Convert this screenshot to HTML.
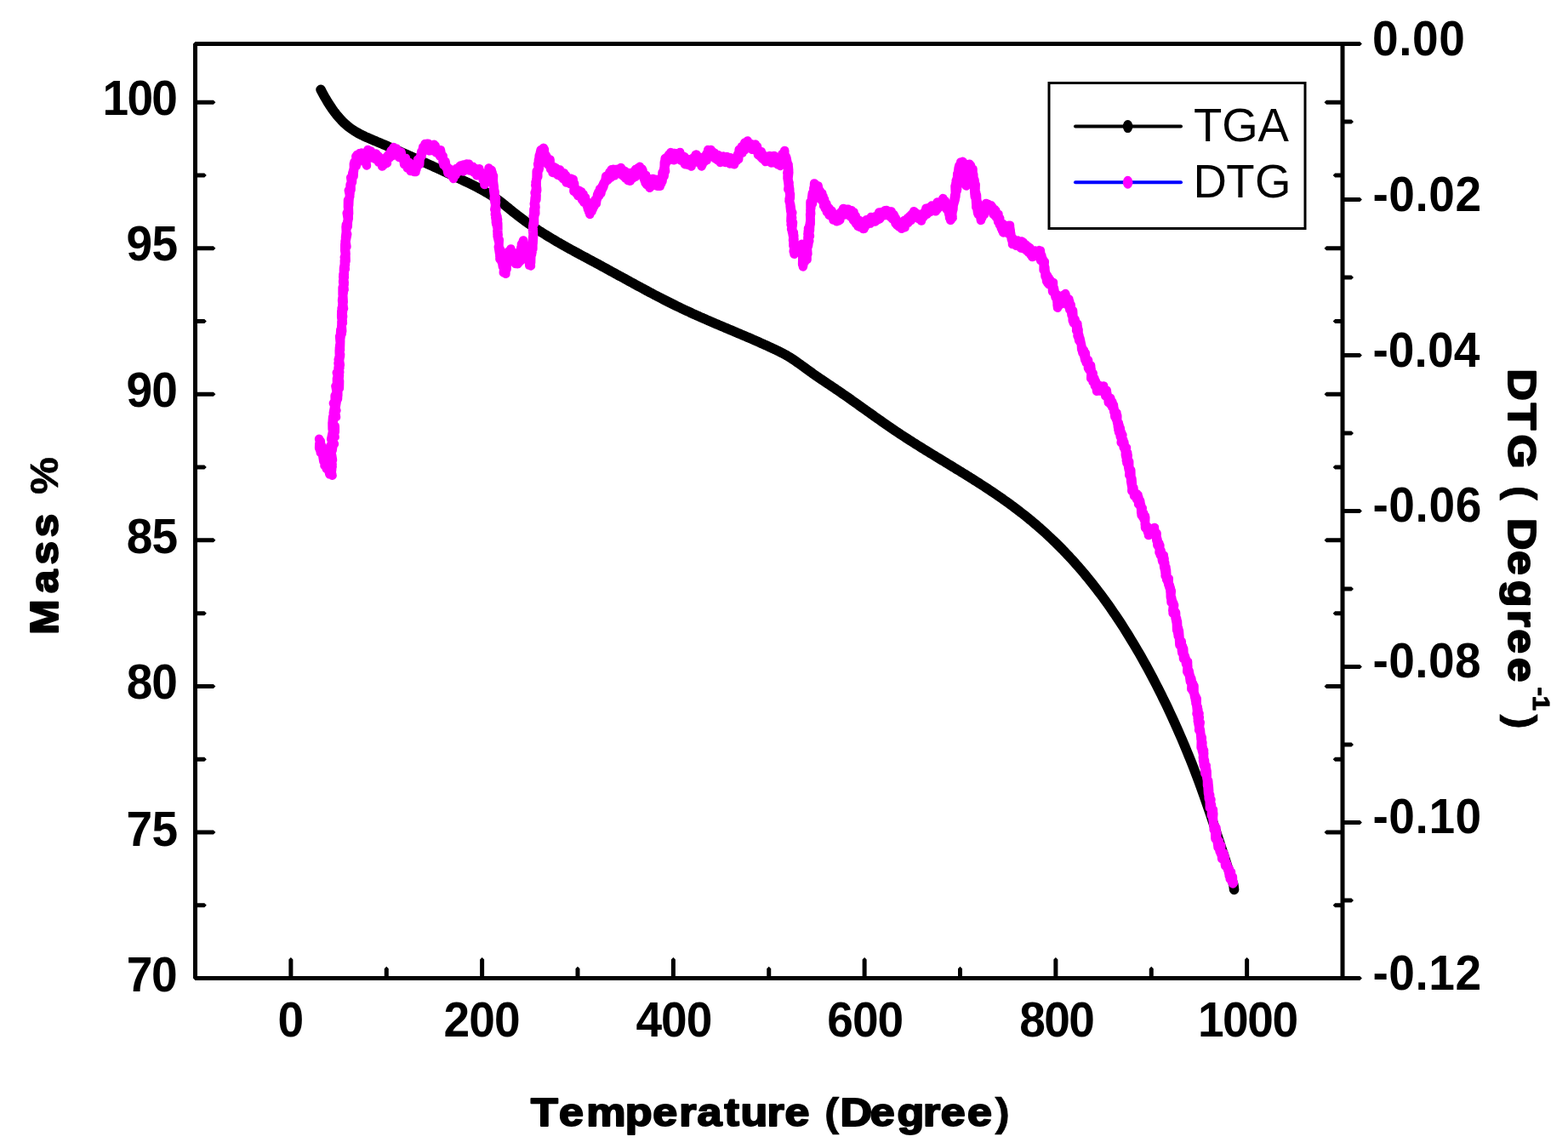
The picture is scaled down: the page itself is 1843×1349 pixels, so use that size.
<!DOCTYPE html><html><head><meta charset="utf-8"><title>TGA / DTG</title><style>html,body{margin:0;padding:0;background:#fff;overflow:hidden}svg{display:block}text{font-family:"Liberation Sans",Arial,sans-serif}</style></head><body>
<svg width="1843" height="1349" viewBox="0 0 1843 1349">
<rect width="1843" height="1349" fill="#fff"/>
<path d="M229.50 1147.00L250.90 1147.00L253.40 1149.50L250.90 1152.00L229.50 1152.00ZM1578.00 1147.00L1559.00 1147.00L1556.50 1149.50L1559.00 1152.00L1578.00 1152.00ZM229.50 1061.23L240.30 1061.23L242.80 1063.73L240.30 1066.23L229.50 1066.23ZM1578.00 1061.23L1569.20 1061.23L1566.70 1063.73L1569.20 1066.23L1578.00 1066.23ZM229.50 975.45L250.90 975.45L253.40 977.95L250.90 980.45L229.50 980.45ZM1578.00 975.45L1559.00 975.45L1556.50 977.95L1559.00 980.45L1578.00 980.45ZM229.50 889.68L240.30 889.68L242.80 892.18L240.30 894.68L229.50 894.68ZM1578.00 889.68L1569.20 889.68L1566.70 892.18L1569.20 894.68L1578.00 894.68ZM229.50 803.91L250.90 803.91L253.40 806.41L250.90 808.91L229.50 808.91ZM1578.00 803.91L1559.00 803.91L1556.50 806.41L1559.00 808.91L1578.00 808.91ZM229.50 718.13L240.30 718.13L242.80 720.63L240.30 723.13L229.50 723.13ZM1578.00 718.13L1569.20 718.13L1566.70 720.63L1569.20 723.13L1578.00 723.13ZM229.50 632.36L250.90 632.36L253.40 634.86L250.90 637.36L229.50 637.36ZM1578.00 632.36L1559.00 632.36L1556.50 634.86L1559.00 637.36L1578.00 637.36ZM229.50 546.59L240.30 546.59L242.80 549.09L240.30 551.59L229.50 551.59ZM1578.00 546.59L1569.20 546.59L1566.70 549.09L1569.20 551.59L1578.00 551.59ZM229.50 460.81L250.90 460.81L253.40 463.31L250.90 465.81L229.50 465.81ZM1578.00 460.81L1559.00 460.81L1556.50 463.31L1559.00 465.81L1578.00 465.81ZM229.50 375.04L240.30 375.04L242.80 377.54L240.30 380.04L229.50 380.04ZM1578.00 375.04L1569.20 375.04L1566.70 377.54L1569.20 380.04L1578.00 380.04ZM229.50 289.27L250.90 289.27L253.40 291.77L250.90 294.27L229.50 294.27ZM1578.00 289.27L1559.00 289.27L1556.50 291.77L1559.00 294.27L1578.00 294.27ZM229.50 203.49L240.30 203.49L242.80 205.99L240.30 208.49L229.50 208.49ZM1578.00 203.49L1569.20 203.49L1566.70 205.99L1569.20 208.49L1578.00 208.49ZM229.50 117.72L250.90 117.72L253.40 120.22L250.90 122.72L229.50 122.72ZM1578.00 117.72L1559.00 117.72L1556.50 120.22L1559.00 122.72L1578.00 122.72ZM1578.00 49.10L1598.40 49.10L1600.90 51.60L1598.40 54.10L1578.00 54.10ZM1578.00 140.59L1588.50 140.59L1591.00 143.09L1588.50 145.59L1578.00 145.59ZM1578.00 232.08L1598.40 232.08L1600.90 234.58L1598.40 237.08L1578.00 237.08ZM1578.00 323.58L1588.50 323.58L1591.00 326.08L1588.50 328.58L1578.00 328.58ZM1578.00 415.07L1598.40 415.07L1600.90 417.57L1598.40 420.07L1578.00 420.07ZM1578.00 506.56L1588.50 506.56L1591.00 509.06L1588.50 511.56L1578.00 511.56ZM1578.00 598.05L1598.40 598.05L1600.90 600.55L1598.40 603.05L1578.00 603.05ZM1578.00 689.54L1588.50 689.54L1591.00 692.04L1588.50 694.54L1578.00 694.54ZM1578.00 781.03L1598.40 781.03L1600.90 783.53L1598.40 786.03L1578.00 786.03ZM1578.00 872.53L1588.50 872.53L1591.00 875.03L1588.50 877.53L1578.00 877.53ZM1578.00 964.02L1598.40 964.02L1600.90 966.52L1598.40 969.02L1578.00 969.02ZM1578.00 1055.51L1588.50 1055.51L1591.00 1058.01L1588.50 1060.51L1578.00 1060.51ZM1578.00 1147.00L1598.40 1147.00L1600.90 1149.50L1598.40 1152.00L1578.00 1152.00ZM339.38 1149.50L339.38 1127.60L341.88 1125.10L344.38 1127.60L344.38 1149.50ZM451.75 1149.50L451.75 1138.20L454.25 1135.70L456.75 1138.20L456.75 1149.50ZM564.12 1149.50L564.12 1127.60L566.62 1125.10L569.12 1127.60L569.12 1149.50ZM676.50 1149.50L676.50 1138.20L679.00 1135.70L681.50 1138.20L681.50 1149.50ZM788.88 1149.50L788.88 1127.60L791.38 1125.10L793.88 1127.60L793.88 1149.50ZM901.25 1149.50L901.25 1138.20L903.75 1135.70L906.25 1138.20L906.25 1149.50ZM1013.62 1149.50L1013.62 1127.60L1016.12 1125.10L1018.62 1127.60L1018.62 1149.50ZM1126.00 1149.50L1126.00 1138.20L1128.50 1135.70L1131.00 1138.20L1131.00 1149.50ZM1238.38 1149.50L1238.38 1127.60L1240.88 1125.10L1243.38 1127.60L1243.38 1149.50ZM1350.75 1149.50L1350.75 1138.20L1353.25 1135.70L1355.75 1138.20L1355.75 1149.50ZM1463.12 1149.50L1463.12 1127.60L1465.62 1125.10L1468.12 1127.60L1468.12 1149.50Z" fill="#000"/>
<rect x="229.5" y="51.6" width="1348.5" height="1097.9" fill="none" stroke="#000" stroke-width="5" stroke-linejoin="bevel"/>
<polyline points="377.0,105.3 379.0,109.1 381.0,112.8 383.0,116.2 385.0,119.6 387.0,122.8 389.0,125.8 391.0,128.7 393.0,131.5 395.0,134.1 397.0,136.5 399.0,138.8 401.0,141.0 403.0,143.1 405.0,145.0 407.0,146.8 409.0,148.4 411.0,150.0 413.0,151.5 415.0,152.8 417.0,154.1 419.0,155.3 421.0,156.5 423.0,157.5 425.0,158.6 427.0,159.5 429.0,160.5 431.0,161.4 433.0,162.2 435.0,163.1 437.0,163.9 439.0,164.8 441.0,165.6 443.0,166.5 445.0,167.3 447.0,168.2 449.0,169.0 451.0,169.9 453.0,170.7 455.0,171.6 457.0,172.5 459.0,173.3 461.0,174.2 463.0,175.1 465.0,175.9 467.0,176.8 469.0,177.7 471.0,178.5 473.0,179.4 475.0,180.3 477.0,181.2 479.0,182.0 481.0,182.9 483.0,183.8 485.0,184.7 487.0,185.6 489.0,186.5 491.0,187.4 493.0,188.3 495.0,189.1 497.0,190.0 499.0,190.9 501.0,191.8 503.0,192.8 505.0,193.7 507.0,194.6 509.0,195.5 511.0,196.4 513.0,197.3 515.0,198.2 517.0,199.1 519.0,200.1 521.0,201.0 523.0,201.9 525.0,202.9 527.0,203.8 529.0,204.7 531.0,205.7 533.0,206.6 535.0,207.5 537.0,208.5 539.0,209.4 541.0,210.4 543.0,211.3 545.0,212.3 547.0,213.3 549.0,214.2 551.0,215.2 553.0,216.2 555.0,217.2 557.0,218.2 559.0,219.2 561.0,220.2 563.0,221.3 565.0,222.3 567.0,223.4 569.0,224.5 571.0,225.7 573.0,226.9 575.0,228.1 577.0,229.3 579.0,230.6 581.0,231.9 583.0,233.3 585.0,234.7 587.0,236.2 589.0,237.7 591.0,239.2 593.0,240.8 595.0,242.4 597.0,244.0 599.0,245.7 601.0,247.3 603.0,248.9 605.0,250.5 607.0,252.1 609.0,253.7 611.0,255.2 613.0,256.7 615.0,258.2 617.0,259.7 619.0,261.1 621.0,262.5 623.0,263.9 625.0,265.3 627.0,266.7 629.0,268.0 631.0,269.4 633.0,270.7 635.0,272.0 637.0,273.2 639.0,274.5 641.0,275.8 643.0,277.0 645.0,278.2 647.0,279.4 649.0,280.6 651.0,281.8 653.0,283.0 655.0,284.2 657.0,285.3 659.0,286.5 661.0,287.6 663.0,288.7 665.0,289.9 667.0,291.0 669.0,292.1 671.0,293.2 673.0,294.3 675.0,295.4 677.0,296.5 679.0,297.5 681.0,298.6 683.0,299.7 685.0,300.8 687.0,301.8 689.0,302.9 691.0,304.0 693.0,305.1 695.0,306.1 697.0,307.2 699.0,308.3 701.0,309.4 703.0,310.4 705.0,311.5 707.0,312.6 709.0,313.7 711.0,314.8 713.0,315.9 715.0,317.0 717.0,318.1 719.0,319.2 721.0,320.3 723.0,321.4 725.0,322.5 727.0,323.6 729.0,324.7 731.0,325.7 733.0,326.8 735.0,327.9 737.0,329.0 739.0,330.1 741.0,331.2 743.0,332.3 745.0,333.4 747.0,334.5 749.0,335.6 751.0,336.7 753.0,337.7 755.0,338.8 757.0,339.9 759.0,341.0 761.0,342.0 763.0,343.1 765.0,344.2 767.0,345.2 769.0,346.3 771.0,347.3 773.0,348.4 775.0,349.4 777.0,350.4 779.0,351.5 781.0,352.5 783.0,353.5 785.0,354.5 787.0,355.5 789.0,356.5 791.0,357.5 793.0,358.5 795.0,359.5 797.0,360.4 799.0,361.4 801.0,362.4 803.0,363.3 805.0,364.3 807.0,365.2 809.0,366.1 811.0,367.0 813.0,368.0 815.0,368.9 817.0,369.8 819.0,370.7 821.0,371.6 823.0,372.5 825.0,373.3 827.0,374.2 829.0,375.1 831.0,376.0 833.0,376.8 835.0,377.7 837.0,378.6 839.0,379.4 841.0,380.3 843.0,381.1 845.0,382.0 847.0,382.8 849.0,383.7 851.0,384.5 853.0,385.4 855.0,386.2 857.0,387.1 859.0,387.9 861.0,388.7 863.0,389.6 865.0,390.4 867.0,391.3 869.0,392.1 871.0,393.0 873.0,393.8 875.0,394.7 877.0,395.5 879.0,396.4 881.0,397.2 883.0,398.1 885.0,399.0 887.0,399.8 889.0,400.7 891.0,401.6 893.0,402.5 895.0,403.4 897.0,404.3 899.0,405.2 901.0,406.1 903.0,407.0 905.0,407.9 907.0,408.8 909.0,409.8 911.0,410.7 913.0,411.7 915.0,412.6 917.0,413.6 919.0,414.7 921.0,415.7 923.0,416.8 925.0,417.9 927.0,419.1 929.0,420.3 931.0,421.6 933.0,422.9 935.0,424.3 937.0,425.7 939.0,427.1 941.0,428.5 943.0,430.0 945.0,431.4 947.0,432.9 949.0,434.4 951.0,435.8 953.0,437.2 955.0,438.7 957.0,440.1 959.0,441.5 961.0,442.9 963.0,444.2 965.0,445.6 967.0,446.9 969.0,448.3 971.0,449.6 973.0,451.0 975.0,452.3 977.0,453.6 979.0,455.0 981.0,456.3 983.0,457.7 985.0,459.0 987.0,460.4 989.0,461.8 991.0,463.2 993.0,464.5 995.0,465.9 997.0,467.3 999.0,468.7 1001.0,470.2 1003.0,471.6 1005.0,473.0 1007.0,474.4 1009.0,475.8 1011.0,477.3 1013.0,478.7 1015.0,480.1 1017.0,481.5 1019.0,483.0 1021.0,484.4 1023.0,485.8 1025.0,487.2 1027.0,488.7 1029.0,490.1 1031.0,491.5 1033.0,492.9 1035.0,494.3 1037.0,495.7 1039.0,497.1 1041.0,498.5 1043.0,499.9 1045.0,501.3 1047.0,502.6 1049.0,504.0 1051.0,505.4 1053.0,506.7 1055.0,508.0 1057.0,509.4 1059.0,510.7 1061.0,512.0 1063.0,513.3 1065.0,514.6 1067.0,515.9 1069.0,517.2 1071.0,518.4 1073.0,519.7 1075.0,521.0 1077.0,522.2 1079.0,523.5 1081.0,524.8 1083.0,526.0 1085.0,527.2 1087.0,528.5 1089.0,529.7 1091.0,530.9 1093.0,532.2 1095.0,533.4 1097.0,534.6 1099.0,535.8 1101.0,537.1 1103.0,538.3 1105.0,539.5 1107.0,540.7 1109.0,541.9 1111.0,543.1 1113.0,544.4 1115.0,545.6 1117.0,546.8 1119.0,548.0 1121.0,549.2 1123.0,550.5 1125.0,551.7 1127.0,552.9 1129.0,554.1 1131.0,555.4 1133.0,556.6 1135.0,557.8 1137.0,559.1 1139.0,560.3 1141.0,561.6 1143.0,562.8 1145.0,564.1 1147.0,565.4 1149.0,566.6 1151.0,567.9 1153.0,569.2 1155.0,570.5 1157.0,571.8 1159.0,573.1 1161.0,574.4 1163.0,575.7 1165.0,577.1 1167.0,578.4 1169.0,579.7 1171.0,581.1 1173.0,582.5 1175.0,583.9 1177.0,585.2 1179.0,586.7 1181.0,588.1 1183.0,589.5 1185.0,590.9 1187.0,592.4 1189.0,593.9 1191.0,595.3 1193.0,596.8 1195.0,598.3 1197.0,599.9 1199.0,601.4 1201.0,603.0 1203.0,604.5 1205.0,606.1 1207.0,607.7 1209.0,609.3 1211.0,611.0 1213.0,612.6 1215.0,614.3 1217.0,616.0 1219.0,617.7 1221.0,619.5 1223.0,621.2 1225.0,623.0 1227.0,624.8 1229.0,626.6 1231.0,628.4 1233.0,630.3 1235.0,632.2 1237.0,634.1 1239.0,636.0 1241.0,637.9 1243.0,639.9 1245.0,641.9 1247.0,643.9 1249.0,645.9 1251.0,648.0 1253.0,650.1 1255.0,652.2 1257.0,654.3 1259.0,656.5 1261.0,658.7 1263.0,660.9 1265.0,663.2 1267.0,665.4 1269.0,667.7 1271.0,670.0 1273.0,672.4 1275.0,674.8 1277.0,677.2 1279.0,679.6 1281.0,682.1 1283.0,684.6 1285.0,687.1 1287.0,689.7 1289.0,692.3 1291.0,694.9 1293.0,697.5 1295.0,700.2 1297.0,702.9 1299.0,705.7 1301.0,708.4 1303.0,711.2 1305.0,714.1 1307.0,717.0 1309.0,719.9 1311.0,722.8 1313.0,725.8 1315.0,728.8 1317.0,731.8 1319.0,734.9 1321.0,738.0 1323.0,741.2 1325.0,744.4 1327.0,747.6 1329.0,750.9 1331.0,754.2 1333.0,757.5 1335.0,760.9 1337.0,764.3 1339.0,767.7 1341.0,771.2 1343.0,774.8 1345.0,778.3 1347.0,781.9 1349.0,785.6 1351.0,789.3 1353.0,793.0 1355.0,796.8 1357.0,800.6 1359.0,804.5 1361.0,808.4 1363.0,812.3 1365.0,816.3 1367.0,820.4 1369.0,824.5 1371.0,828.6 1373.0,832.8 1375.0,837.1 1377.0,841.4 1379.0,845.7 1381.0,850.2 1383.0,854.6 1385.0,859.1 1387.0,863.7 1389.0,868.3 1391.0,873.0 1393.0,877.8 1395.0,882.6 1397.0,887.5 1399.0,892.4 1401.0,897.4 1403.0,902.5 1405.0,907.7 1407.0,912.9 1409.0,918.3 1411.0,923.7 1413.0,929.2 1415.0,934.9 1417.0,940.5 1419.0,946.3 1421.0,952.1 1423.0,958.0 1425.0,964.0 1427.0,969.9 1429.0,976.0 1431.0,982.0 1433.0,988.1 1435.0,994.2 1437.0,1000.3 1439.0,1006.4 1441.0,1012.6 1443.0,1018.7 1445.0,1024.8 1447.0,1030.9 1449.0,1037.0 1449.9,1039.7 1450.6,1045.5" fill="none" stroke="#000" stroke-width="11.5" stroke-linejoin="round" stroke-linecap="round"/>
<polyline points="375.5,517.0 375.1,515.8 376.9,522.6 376.8,518.4 375.1,526.4 375.3,521.2 375.9,528.6 377.8,523.4 376.8,531.9 379.4,526.2 379.6,535.2 381.7,531.0 381.6,538.0 379.0,533.9 380.3,542.2 380.3,536.1 382.9,544.4 383.1,540.3 381.5,547.3 384.8,542.7 383.8,551.0 385.1,545.8 387.2,554.1 385.4,548.2 387.3,557.3 388.9,551.6 390.6,558.7 388.2,550.6 387.1,556.3 386.7,547.7 390.0,553.4 390.6,545.3 389.9,550.4 389.5,542.0 390.7,548.1 389.2,538.5 387.4,544.5 390.1,534.8 391.0,540.6 389.1,532.4 387.6,537.9 388.4,530.4 388.0,535.5 388.4,527.1 389.6,532.6 388.4,523.6 390.6,529.5 391.9,519.6 389.7,525.4 390.1,516.5 392.9,521.8 389.6,514.6 390.0,519.3 391.6,511.4 389.2,516.1 390.9,507.7 393.6,513.5 391.8,504.5 392.7,509.1 393.8,501.0 393.8,507.5 391.7,498.8 390.6,504.2 390.5,496.4 391.3,500.2 392.0,493.5 390.6,497.2 391.1,489.9 390.9,495.7 393.6,487.3 392.1,491.6 392.7,484.3 395.0,489.9 393.4,480.6 391.8,485.1 393.1,478.1 395.3,482.2 391.9,473.7 394.3,479.2 394.5,472.5 394.7,477.8 396.3,468.1 393.8,473.5 393.6,464.9 395.4,471.3 394.7,462.9 397.0,468.6 397.3,458.7 397.3,465.1 394.9,456.2 395.7,460.6 394.4,453.6 395.6,458.9 398.8,450.2 398.9,456.4 399.1,447.4 396.0,451.9 395.9,444.7 397.9,450.2 399.0,441.1 398.2,447.0 395.8,437.8 398.7,444.0 398.4,435.1 397.2,441.0 397.6,431.5 399.2,437.2 398.0,428.2 398.8,433.8 397.5,426.8 399.4,432.0 397.7,422.4 399.8,428.7 398.4,420.0 398.0,424.4 400.1,416.8 399.1,423.3 399.0,413.4 400.0,418.8 398.7,411.5 398.8,416.6 398.9,408.2 398.7,414.2 399.3,405.1 400.0,411.1 399.7,401.2 400.0,407.4 400.2,399.9 400.1,403.6 399.1,395.3 399.6,401.2 401.0,392.8 400.2,398.2 400.8,389.3 399.9,395.3 400.3,387.3 401.7,392.1 401.2,383.3 402.2,389.0 401.6,380.8 401.4,386.4 401.4,377.7 401.5,383.9 402.2,373.9 402.9,379.5 402.0,370.8 402.8,376.2 401.2,368.7 401.2,373.4 401.3,365.3 403.1,371.7 401.6,362.1 402.9,367.2 403.5,358.6 402.0,365.7 402.5,356.5 404.0,362.4 402.1,353.6 403.0,358.4 402.3,350.8 403.7,354.8 403.3,347.5 402.1,352.4 403.7,344.3 402.4,350.6 404.2,340.4 402.6,346.2 402.6,337.7 403.2,342.8 403.6,334.4 404.7,340.1 403.1,331.4 404.2,337.9 403.1,330.1 404.6,334.3 403.2,325.3 404.7,332.0 403.4,322.4 403.5,329.1 404.5,320.4 404.8,326.3 404.2,317.8 404.9,321.9 404.0,314.8 403.9,318.8 404.6,311.5 405.8,316.0 405.2,308.7 404.9,312.5 404.8,306.0 406.0,310.5 404.8,302.1 406.6,306.6 406.4,299.2 405.7,305.1 405.6,296.1 406.4,302.4 405.6,292.4 406.6,298.7 405.9,290.4 405.2,294.7 405.3,286.6 405.8,291.7 405.5,283.4 407.4,289.7 406.1,281.6 406.2,286.3 406.0,278.2 406.4,284.3 408.2,275.0 406.5,281.3 406.8,272.4 406.2,277.2 407.4,269.1 406.9,274.4 406.5,266.6 406.8,271.2 406.8,264.0 407.6,267.9 408.3,260.0 408.8,265.7 408.9,256.3 408.2,262.1 409.7,254.8 409.2,259.7 407.7,250.4 409.8,256.7 409.6,247.4 408.3,253.3 409.3,244.3 410.1,250.8 409.7,241.0 410.0,247.4 409.1,239.6 408.9,243.7 409.0,234.9 410.2,241.1 410.5,232.1 410.3,236.7 411.1,228.8 410.5,234.7 411.0,227.1 411.3,231.0 409.8,223.6 411.5,227.8 411.7,219.0 411.4,225.1 411.6,216.7 412.6,222.6 412.5,214.9 411.6,218.9 413.3,211.5 413.2,215.5 412.2,208.6 414.0,213.9 414.2,205.6 414.1,210.5 414.3,203.0 415.6,207.0 416.0,198.4 414.1,204.5 416.5,195.4 416.0,201.2 415.8,192.5 416.2,198.9 416.4,190.4 418.8,195.0 418.9,187.4 419.4,193.2 418.3,183.7 419.3,188.9 419.6,181.9 422.1,187.2 422.9,179.9 424.8,186.0 424.8,179.5 427.5,187.5 428.5,182.5 429.2,190.8 428.6,186.1 430.9,194.4 429.8,186.0 430.0,190.3 430.0,182.3 430.8,189.1 431.2,180.4 432.2,184.7 432.3,176.1 435.0,185.1 435.9,177.5 438.1,185.8 439.1,180.5 440.6,186.9 442.1,180.6 442.5,187.4 445.0,183.5 444.9,190.5 445.5,184.7 448.1,192.8 448.4,188.1 449.1,195.5 449.4,188.3 450.8,194.0 452.7,185.7 454.9,191.8 455.0,183.4 455.7,187.5 457.1,181.0 457.9,185.3 459.7,176.9 461.2,183.1 461.5,175.1 462.4,180.4 462.7,173.0 466.0,179.8 466.0,174.6 468.0,182.2 467.7,177.5 469.1,184.9 471.6,178.6 472.5,186.3 471.6,181.1 474.5,189.5 474.6,185.0 475.0,193.0 476.9,185.9 478.0,194.2 476.8,189.8 478.7,197.6 480.9,190.8 481.5,199.4 482.3,192.8 482.6,201.1 484.3,193.8 486.6,201.9 486.6,196.8 488.5,202.0 487.9,194.2 489.5,198.8 489.9,190.9 491.0,194.8 491.0,187.5 493.2,193.1 493.7,184.5 492.8,189.3 495.1,181.1 494.1,185.9 495.2,178.2 495.6,183.4 496.8,174.7 496.3,179.9 497.2,172.7 498.6,177.3 499.5,169.1 499.4,174.3 502.0,168.8 503.1,175.1 503.2,168.7 504.8,177.3 506.8,170.6 507.6,177.0 510.1,169.8 510.4,177.7 511.7,171.4 512.8,179.5 513.8,175.0 517.1,183.6 517.9,176.3 519.6,185.0 518.4,179.1 520.3,187.4 520.7,183.2 520.5,190.9 520.6,186.9 521.4,193.9 523.6,189.6 524.2,196.6 523.6,191.1 525.7,199.7 524.7,194.4 526.4,203.4 526.8,197.3 529.4,204.3 529.1,199.1 530.9,206.9 530.0,203.2 533.0,210.0 533.6,201.7 533.6,207.6 536.0,199.8 535.4,206.0 536.5,198.0 536.7,203.6 540.3,195.4 541.7,200.9 541.3,194.4 544.4,201.4 544.4,193.6 545.9,199.2 548.4,192.4 549.6,199.8 551.1,192.7 552.1,200.5 552.9,195.0 555.5,201.5 555.6,195.7 557.2,202.9 558.2,197.6 560.3,206.3 563.2,198.3 563.2,206.0 564.2,200.7 567.2,208.2 566.5,203.1 567.8,211.6 568.6,205.2 568.8,213.4 569.7,209.3 569.4,216.9 570.3,212.4 569.7,216.6 570.0,208.1 571.7,213.8 571.8,204.9 572.7,210.7 574.0,202.6 575.0,207.5 574.4,199.3 575.8,206.1 574.5,197.4 575.2,204.7 577.8,199.8 578.3,208.0 578.7,203.0 577.8,211.8 580.0,206.7 579.7,214.5 579.3,209.1 579.3,216.7 579.7,211.8 580.8,219.8 579.4,215.5 581.1,222.9 580.4,218.9 581.7,226.8 580.0,222.2 581.0,229.9 581.7,225.4 580.7,233.4 581.4,228.2 581.3,237.0 581.4,230.7 581.7,239.1 583.0,233.0 582.0,241.8 583.0,237.7 581.3,246.3 582.5,239.6 582.5,249.4 582.8,244.0 581.8,251.9 583.4,245.7 582.2,255.1 583.0,249.6 582.6,257.6 583.6,251.9 582.8,261.1 584.5,254.9 583.2,263.5 585.1,258.0 584.1,266.5 585.3,262.3 585.4,270.7 585.3,265.9 585.3,273.0 584.6,267.6 585.7,276.1 584.4,271.6 585.3,279.6 584.5,275.1 586.1,283.7 584.6,277.6 586.5,285.2 586.8,281.6 586.4,289.3 586.6,284.3 586.3,292.5 586.5,286.8 586.7,295.3 585.8,290.0 587.1,298.1 587.9,292.8 587.3,301.1 587.8,297.1 587.4,304.5 587.7,299.4 589.1,306.7 589.9,303.1 590.5,311.1 590.4,306.1 590.8,313.3 592.3,308.9 592.5,317.5 592.7,310.5 591.8,320.4 593.0,313.2 594.4,321.7 594.4,313.3 593.0,319.2 595.0,311.8 595.6,316.1 595.7,308.9 595.3,314.4 594.9,305.7 595.9,310.2 595.1,302.9 595.7,308.5 597.3,298.5 596.4,305.2 596.6,296.3 598.1,301.4 600.2,293.3 601.0,299.5 600.4,292.4 602.2,301.5 603.2,296.8 604.2,304.8 603.2,298.8 604.0,307.0 605.2,303.2 606.0,310.1 607.0,302.5 608.4,310.2 609.3,303.7 610.1,308.4 611.7,300.9 611.7,306.9 611.0,298.4 612.5,302.2 611.1,295.2 611.6,299.9 612.1,291.7 613.2,296.6 613.5,289.0 612.6,295.1 613.0,286.7 612.9,291.6 615.0,282.4 615.0,290.8 615.2,285.7 617.6,293.9 618.9,289.0 620.0,297.7 618.7,291.1 618.6,300.2 619.8,295.3 619.4,303.7 619.6,297.7 622.2,305.4 620.8,300.5 621.9,309.3 623.0,304.4 622.2,311.6 621.9,305.9 623.9,312.4 622.2,302.9 624.1,308.7 624.3,300.5 623.2,304.9 623.4,298.2 623.8,303.0 624.9,293.4 625.1,298.9 624.9,291.1 625.6,296.3 624.6,287.6 626.4,292.5 626.4,285.7 625.1,289.4 626.4,280.7 626.6,286.5 627.0,278.8 625.6,284.6 626.6,275.0 626.8,281.6 626.4,271.7 627.1,278.3 626.6,268.8 627.0,274.2 626.2,266.0 626.0,272.3 626.3,264.1 626.3,269.3 627.0,260.8 626.3,264.5 628.0,256.8 628.1,262.8 626.7,253.8 627.5,259.9 628.7,250.1 627.0,256.9 629.2,247.0 627.3,252.5 627.4,245.7 629.3,250.7 628.9,241.1 629.0,246.6 627.8,239.4 629.5,243.4 628.6,235.7 628.0,240.4 628.7,232.1 629.0,237.4 630.6,229.4 630.4,234.9 628.6,226.5 629.7,232.1 629.6,222.8 630.2,227.9 631.1,220.9 631.1,224.8 629.3,217.6 631.2,223.3 629.5,214.0 630.8,219.8 630.2,210.9 630.7,216.8 630.6,206.9 630.8,212.5 631.9,204.7 630.6,210.2 630.7,201.0 632.3,207.4 632.2,198.8 631.9,203.5 633.3,196.1 633.5,199.6 632.1,192.6 633.9,197.4 632.9,188.2 632.8,194.1 633.7,185.3 634.4,191.3 633.7,183.0 633.4,188.5 634.9,179.0 633.9,184.6 635.6,176.1 635.5,181.5 638.8,173.8 637.9,181.2 639.9,175.6 639.3,183.9 640.2,179.5 641.6,186.8 641.9,182.8 644.2,190.9 642.8,184.2 643.7,193.2 646.6,187.5 646.9,196.2 646.4,190.8 647.1,198.8 648.6,194.9 649.5,202.9 651.6,196.2 653.0,203.7 653.3,197.5 655.4,205.8 658.1,199.4 658.8,207.3 659.6,201.8 661.6,210.0 663.0,203.3 664.4,212.1 665.1,206.2 665.6,214.5 666.5,208.1 669.6,215.8 670.8,209.7 671.7,216.5 673.7,210.6 674.2,219.5 673.5,213.0 675.4,221.4 675.1,215.3 674.4,224.7 675.2,218.7 677.5,227.5 676.9,221.7 679.4,230.2 680.9,223.8 683.1,232.1 683.3,225.5 684.0,234.7 685.6,228.2 686.2,237.7 688.0,232.0 688.4,239.2 688.4,234.2 690.1,242.8 690.6,237.5 690.9,245.8 693.3,240.0 692.2,248.9 693.3,243.6 693.3,251.9 695.7,242.7 695.6,248.5 695.8,239.1 696.8,245.6 698.7,236.4 698.5,242.0 699.5,234.8 700.9,239.1 701.7,231.6 701.3,235.9 702.1,228.7 701.9,233.9 703.3,225.7 704.0,230.4 705.1,221.9 706.4,227.2 707.8,218.5 706.4,225.2 709.2,215.7 708.1,222.3 710.1,214.3 709.3,219.6 711.6,210.9 711.0,215.0 712.2,207.1 713.3,212.5 715.5,204.5 714.6,211.4 716.5,202.0 717.5,208.9 718.6,199.3 718.7,206.8 720.9,198.8 722.2,206.4 724.0,199.0 724.7,204.2 726.8,198.6 728.2,203.5 729.8,197.0 731.0,205.7 730.9,198.6 733.1,207.4 734.7,201.0 735.2,209.5 737.7,204.8 738.1,212.2 737.8,206.1 740.8,212.8 741.4,203.1 743.4,209.7 745.8,202.7 746.6,207.9 746.9,199.1 748.2,205.6 749.8,197.3 750.3,203.6 752.0,195.8 753.8,203.6 754.7,198.7 754.7,206.2 755.5,200.2 756.7,209.9 756.8,204.2 757.6,212.1 759.2,205.9 758.6,215.1 761.4,209.2 760.1,217.2 760.7,212.8 763.6,220.7 764.5,212.0 766.5,218.5 767.3,210.1 769.0,216.2 770.1,210.7 771.3,217.7 772.7,212.7 772.5,218.7 775.2,212.9 775.8,218.8 777.0,210.2 777.3,215.6 777.5,207.9 778.5,213.0 779.5,203.9 778.3,210.3 778.5,202.6 780.6,207.3 781.2,199.0 779.2,204.0 780.9,195.0 782.1,201.2 780.9,193.7 781.7,197.7 780.8,190.9 780.7,195.7 781.7,186.1 782.4,193.1 783.2,185.0 785.4,188.9 786.1,181.7 785.2,187.0 788.3,179.1 789.8,186.1 791.1,179.9 792.1,188.3 793.1,179.9 795.7,186.9 795.5,180.3 799.0,186.1 799.2,179.1 800.1,188.4 802.1,182.9 803.1,190.3 804.5,184.2 805.0,193.2 806.8,186.7 808.9,194.0 809.8,187.2 812.6,195.5 813.2,188.9 812.8,194.8 815.3,184.9 815.3,191.1 817.7,181.9 817.7,187.5 818.6,181.6 819.7,190.7 821.4,184.0 823.2,192.4 822.5,187.7 824.7,195.5 826.5,186.4 825.6,193.3 828.3,183.7 828.6,189.5 830.2,181.2 830.7,188.1 830.8,179.9 832.1,185.2 832.2,175.9 834.8,181.4 835.5,175.9 836.7,183.6 837.6,178.0 840.4,186.3 840.2,180.1 843.3,188.1 844.3,182.1 846.5,190.9 847.3,183.8 848.4,190.2 850.2,183.6 852.4,190.9 854.3,184.0 855.1,190.4 858.7,185.2 858.0,192.6 861.1,186.7 862.1,193.0 863.4,187.9 863.0,193.3 865.8,184.0 865.8,188.9 867.1,181.2 868.2,186.9 868.7,177.1 868.1,182.5 868.7,175.7 869.5,179.9 871.8,172.2 872.6,179.5 874.8,171.6 875.2,176.2 875.2,167.6 876.6,174.3 878.6,165.4 880.2,173.5 881.1,168.1 883.9,175.8 883.6,169.5 885.1,175.7 887.9,169.6 889.0,177.6 890.1,172.5 891.0,181.9 890.8,176.1 893.7,184.3 894.8,178.2 895.8,186.4 895.9,180.6 897.5,187.6 899.2,183.4 899.9,190.1 902.6,184.9 904.4,190.1 904.4,183.0 906.5,191.4 909.8,182.9 909.5,191.3 910.9,184.6 914.2,193.4 914.7,187.5 917.1,194.9 917.3,187.3 917.1,191.1 919.0,183.6 918.4,189.7 919.4,180.9 919.9,185.6 922.3,178.1 921.4,183.1 922.1,177.0 922.0,187.0 922.2,179.9 924.1,188.5 924.0,184.1 923.8,191.4 924.5,185.7 926.4,195.8 924.6,190.0 926.9,197.0 926.5,193.1 927.2,200.1 926.8,196.2 925.3,203.3 927.0,199.0 925.5,207.3 927.3,202.7 926.5,209.9 925.6,204.8 927.0,213.2 925.5,209.3 926.8,216.9 926.1,212.3 927.0,220.5 927.6,214.7 926.3,222.4 927.7,218.2 927.9,225.5 928.2,221.4 928.5,230.2 927.8,225.2 928.9,232.6 929.0,227.8 927.5,236.4 928.1,231.2 928.3,239.1 927.6,233.6 928.8,242.0 928.2,236.3 930.0,245.8 929.0,239.4 929.3,248.7 928.6,242.3 930.9,251.4 930.0,246.0 930.1,253.5 931.3,249.8 929.5,256.8 929.8,251.7 929.4,259.9 931.1,256.1 929.6,264.0 931.0,258.5 931.5,266.2 932.0,261.3 930.1,269.3 931.3,264.8 930.9,272.4 931.3,268.6 931.9,277.0 930.9,270.9 932.5,278.7 932.9,273.3 932.0,282.5 933.3,277.4 932.4,286.7 933.5,281.0 932.4,288.7 933.0,282.9 934.1,293.1 934.3,286.4 932.7,295.5 935.0,289.4 933.5,298.6 935.9,291.3 937.1,296.1 938.4,289.2 938.9,294.4 942.6,286.8 942.8,296.0 942.7,289.6 943.1,297.7 942.8,293.8 943.1,301.2 943.0,295.5 943.4,304.1 943.4,299.4 944.7,307.2 943.3,301.9 943.1,310.7 945.4,305.2 943.9,313.4 945.1,305.9 944.7,309.8 945.7,302.5 946.2,307.1 946.3,299.2 948.6,304.9 948.5,296.1 948.2,302.1 948.9,293.2 949.4,298.5 948.8,290.7 948.7,295.5 949.2,286.9 948.4,292.0 950.6,284.5 950.0,289.2 949.4,279.9 949.6,286.6 949.4,278.6 951.2,282.8 949.4,274.8 950.4,280.3 949.7,272.0 951.9,277.2 950.0,268.6 950.6,273.9 951.4,264.5 952.0,270.5 951.9,261.6 952.1,267.3 952.3,258.5 952.7,263.5 952.7,256.8 952.6,261.3 952.1,251.8 952.4,257.8 953.0,248.9 952.7,254.6 952.4,246.6 953.2,251.3 952.5,243.3 952.6,248.3 953.7,239.6 953.2,245.4 952.5,237.5 952.5,242.6 953.9,234.9 955.0,239.1 955.2,230.5 955.8,235.9 954.8,227.3 954.1,232.6 955.8,225.2 956.9,231.1 956.3,221.2 956.6,227.6 957.3,219.5 956.8,224.8 957.1,215.4 958.2,221.7 958.3,216.5 960.6,224.7 961.6,218.5 963.2,227.5 962.5,222.0 964.5,230.2 964.0,224.5 963.8,233.1 966.3,227.4 966.0,235.6 967.6,230.7 968.2,240.3 969.1,234.2 968.1,241.9 969.7,237.0 969.7,244.7 971.5,239.8 971.8,249.1 973.4,243.5 973.8,251.3 974.4,244.8 974.6,252.9 977.6,247.6 978.1,255.3 978.6,250.3 979.5,258.6 981.6,251.6 983.2,260.3 983.6,255.5 986.0,259.5 985.4,252.9 987.3,258.4 988.5,249.0 988.1,254.2 990.7,247.4 991.5,252.3 991.1,245.0 992.4,252.6 995.1,245.8 996.2,252.5 996.8,245.7 999.5,254.6 1000.7,247.2 1001.0,254.6 1003.5,249.2 1002.9,258.8 1004.9,252.9 1005.3,261.5 1005.8,254.1 1006.1,262.9 1008.3,257.9 1008.4,266.0 1009.9,258.9 1010.4,266.7 1011.7,262.2 1014.3,269.0 1014.3,264.5 1015.4,268.8 1016.2,261.6 1016.6,266.7 1018.2,258.3 1019.3,263.6 1020.9,257.5 1023.4,262.5 1023.7,255.0 1025.0,261.2 1028.3,254.6 1028.8,260.5 1031.2,252.8 1031.6,258.5 1033.1,249.5 1034.2,257.2 1036.4,249.1 1037.7,253.8 1039.8,247.3 1041.8,252.9 1042.0,247.0 1044.1,253.3 1046.2,248.4 1046.8,255.2 1047.7,248.4 1048.9,257.3 1050.3,251.9 1050.8,258.8 1051.2,253.4 1052.5,262.5 1052.9,256.6 1054.4,264.8 1055.2,260.1 1056.7,266.5 1057.7,260.8 1059.6,268.8 1062.3,260.4 1063.5,267.3 1062.9,258.9 1063.9,264.4 1066.7,256.3 1067.3,261.9 1069.2,254.1 1070.8,258.9 1071.5,251.7 1071.5,257.5 1074.2,248.2 1073.8,253.3 1075.3,249.0 1076.9,255.9 1077.5,250.7 1080.2,257.5 1082.0,252.2 1082.9,259.6 1083.2,251.8 1084.0,256.8 1086.2,249.3 1085.8,254.6 1088.2,247.4 1087.2,252.7 1088.4,244.7 1089.6,251.8 1091.9,243.8 1093.3,249.2 1094.9,241.6 1095.3,247.9 1098.5,241.6 1099.9,248.3 1100.7,239.4 1101.8,245.7 1101.6,237.5 1103.8,243.7 1106.3,236.5 1107.2,240.7 1108.3,233.1 1108.2,241.8 1110.9,235.9 1110.9,243.7 1110.7,238.9 1112.5,246.1 1113.2,241.8 1114.8,249.7 1114.2,244.6 1115.4,252.3 1117.0,247.3 1116.0,256.1 1116.2,249.9 1117.2,258.9 1118.3,252.5 1117.7,258.6 1119.0,250.1 1119.7,256.0 1118.4,247.4 1119.3,251.8 1118.9,244.5 1119.5,249.8 1120.4,241.8 1120.4,246.3 1120.8,238.7 1120.3,242.4 1122.7,234.4 1120.7,240.6 1123.1,231.6 1121.2,237.0 1122.2,229.2 1122.7,232.8 1123.8,225.1 1123.3,231.5 1123.6,222.7 1122.8,226.8 1122.5,218.5 1124.7,223.9 1123.3,215.6 1125.1,222.0 1123.7,212.2 1125.5,218.4 1124.5,210.2 1126.0,214.4 1125.1,206.3 1125.3,212.3 1125.2,204.1 1126.2,208.7 1127.0,199.6 1127.4,206.1 1126.7,196.9 1126.1,201.7 1127.3,194.5 1128.7,198.7 1129.2,190.5 1129.4,196.2 1131.4,189.8 1132.2,196.5 1132.7,191.5 1132.8,200.3 1131.8,194.8 1132.5,203.3 1132.3,198.2 1133.3,207.1 1134.1,201.7 1132.8,209.3 1133.7,204.4 1133.0,211.5 1133.5,207.1 1135.2,216.1 1135.2,209.1 1135.6,218.5 1135.7,210.9 1135.8,215.6 1135.4,206.9 1137.4,212.3 1137.1,204.5 1136.8,210.2 1136.5,201.7 1138.6,206.3 1137.6,197.8 1138.7,203.6 1139.3,195.1 1140.1,200.3 1139.5,192.8 1142.1,200.6 1141.0,194.4 1142.1,202.6 1143.5,198.6 1143.6,206.6 1143.1,201.1 1143.0,209.7 1144.3,205.2 1144.1,211.9 1144.3,206.8 1144.8,216.4 1145.5,211.5 1146.2,219.5 1144.3,213.2 1145.1,221.6 1146.7,216.9 1146.4,224.7 1146.6,221.0 1145.5,228.3 1145.1,223.1 1145.8,231.2 1147.2,226.4 1147.8,234.8 1148.0,229.1 1148.3,238.3 1146.7,231.7 1147.3,241.0 1148.3,234.5 1147.2,243.2 1148.9,237.3 1149.0,245.6 1148.9,241.9 1149.0,250.0 1148.2,243.3 1149.7,251.9 1149.7,247.2 1152.4,255.5 1151.7,251.0 1152.9,258.9 1153.5,249.9 1154.3,255.7 1155.0,247.7 1156.7,252.4 1156.7,243.4 1157.8,248.4 1156.8,241.8 1157.7,247.1 1158.9,239.0 1158.9,246.3 1161.6,239.8 1162.6,246.5 1165.0,241.3 1166.5,248.9 1166.1,242.9 1167.3,251.5 1169.0,246.0 1168.8,252.9 1170.4,247.5 1171.0,255.5 1171.0,250.1 1172.6,257.4 1173.5,252.0 1173.1,260.6 1175.2,256.4 1174.9,264.2 1175.4,258.8 1176.7,268.1 1178.4,262.8 1177.9,270.7 1179.3,264.3 1179.3,273.4 1180.2,266.4 1182.7,273.2 1184.5,265.0 1184.4,272.4 1187.0,264.8 1187.1,272.8 1187.3,267.9 1186.5,275.7 1187.6,269.8 1188.4,278.8 1188.2,274.2 1188.8,281.3 1188.4,275.9 1189.9,284.8 1190.6,280.0 1190.0,287.1 1191.8,281.8 1194.3,288.8 1196.3,282.5 1197.7,289.6 1197.2,283.7 1199.9,291.4 1200.8,283.5 1202.5,292.1 1203.1,285.1 1206.6,292.0 1206.0,287.8 1206.7,294.6 1208.9,290.0 1209.1,297.0 1210.5,291.4 1211.6,299.6 1212.7,293.8 1213.3,302.0 1215.3,294.7 1215.7,301.1 1216.8,294.4 1219.9,301.1 1221.5,294.1 1221.6,300.3 1222.9,294.7 1223.5,302.5 1222.6,297.6 1223.1,306.0 1224.4,300.4 1225.5,308.3 1225.8,304.4 1227.4,311.8 1227.8,307.4 1227.2,315.4 1226.7,310.5 1226.6,317.4 1228.3,313.7 1228.7,321.2 1228.2,315.9 1228.5,324.8 1228.9,319.6 1229.5,327.2 1229.7,322.0 1230.1,330.5 1231.1,324.2 1231.4,332.6 1232.6,326.4 1232.7,334.2 1234.6,329.1 1236.4,337.1 1238.0,332.1 1237.9,339.0 1236.6,335.2 1237.1,342.7 1238.8,338.0 1240.2,345.4 1238.8,340.9 1240.6,349.4 1239.7,344.1 1241.7,350.9 1242.7,346.3 1242.3,354.4 1243.2,349.7 1242.6,358.9 1242.6,352.5 1243.0,361.7 1244.8,352.6 1244.9,359.0 1246.8,350.0 1249.1,356.7 1248.3,348.8 1249.4,353.8 1250.4,346.4 1252.6,351.7 1252.3,345.1 1252.8,354.5 1253.4,348.4 1255.9,356.9 1256.4,351.5 1256.0,360.1 1257.2,354.3 1257.2,363.8 1258.7,358.2 1259.1,367.3 1258.7,360.5 1259.5,370.2 1261.1,365.0 1261.6,373.7 1260.7,368.4 1260.7,376.8 1260.9,369.8 1261.7,379.4 1262.0,374.3 1264.0,381.2 1263.7,375.8 1265.2,385.7 1266.4,380.5 1265.1,388.5 1266.8,383.5 1266.9,390.3 1267.2,386.3 1266.5,394.8 1267.6,387.7 1267.4,396.8 1267.7,391.6 1268.1,400.1 1268.4,394.0 1269.5,402.0 1269.4,397.4 1271.1,405.4 1269.7,399.5 1271.8,409.1 1270.8,404.0 1271.2,410.8 1271.1,406.3 1272.4,414.7 1272.8,410.2 1274.0,417.9 1274.1,412.1 1274.9,421.5 1275.8,414.8 1275.3,423.1 1276.0,417.2 1276.6,426.2 1277.3,421.8 1279.4,428.4 1279.1,423.2 1278.9,432.6 1279.8,427.5 1280.1,434.6 1282.1,429.4 1282.7,437.4 1282.6,433.3 1282.9,441.3 1282.6,435.0 1282.2,444.7 1284.7,438.8 1284.5,448.1 1284.1,441.6 1285.8,449.9 1286.5,445.0 1286.8,453.3 1287.9,448.1 1288.5,456.1 1288.3,450.5 1289.1,459.8 1291.1,452.1 1292.7,459.6 1293.5,453.8 1296.6,460.3 1297.2,453.6 1298.6,461.5 1297.8,456.0 1299.2,465.2 1300.8,458.8 1301.6,467.0 1301.2,461.9 1303.0,470.0 1302.2,465.7 1302.8,473.0 1305.2,467.7 1305.1,475.1 1305.7,469.4 1307.2,478.4 1307.4,472.4 1308.7,480.6 1309.0,476.2 1309.2,483.8 1309.4,479.3 1310.0,486.3 1310.1,481.8 1310.3,489.6 1312.4,485.3 1311.8,492.7 1313.3,488.7 1313.1,496.9 1312.4,491.0 1314.1,499.3 1313.4,494.7 1313.9,501.8 1314.8,497.1 1314.4,505.3 1315.6,500.0 1315.1,508.1 1316.8,503.3 1317.4,511.4 1316.4,505.3 1316.7,513.1 1318.2,508.8 1318.0,516.9 1319.4,511.0 1317.7,520.0 1319.2,514.6 1320.6,522.7 1320.3,516.7 1320.7,525.8 1321.4,519.9 1322.3,529.3 1322.1,524.5 1323.3,532.0 1324.0,526.1 1322.8,534.3 1323.0,528.9 1323.3,537.0 1325.2,532.4 1323.8,541.2 1325.7,535.5 1324.4,544.1 1325.5,538.3 1327.2,547.4 1327.2,542.1 1326.2,549.7 1325.7,543.4 1326.7,552.2 1327.1,547.8 1328.7,555.7 1328.0,550.4 1327.2,558.2 1329.3,552.7 1329.5,561.1 1328.2,557.1 1329.2,564.3 1329.3,559.2 1329.8,567.2 1330.5,562.8 1331.0,570.6 1329.1,565.5 1330.5,573.3 1330.8,568.5 1330.3,577.0 1330.6,570.7 1332.5,579.5 1332.4,573.0 1333.0,582.8 1332.8,576.7 1334.9,583.9 1336.1,580.2 1336.1,586.9 1337.6,581.9 1338.0,590.2 1338.4,584.4 1338.1,592.4 1340.1,588.2 1341.0,595.1 1339.5,591.2 1341.6,599.7 1341.1,593.2 1341.2,602.7 1342.7,597.3 1341.6,605.4 1342.1,599.1 1343.1,607.6 1344.2,603.2 1344.6,610.5 1345.9,606.2 1346.1,613.5 1346.3,607.9 1345.7,616.2 1346.0,611.5 1346.0,620.2 1346.1,614.8 1348.0,622.9 1348.2,618.5 1349.0,625.3 1349.5,619.7 1350.0,629.1 1350.0,622.1 1352.6,628.1 1354.6,621.7 1355.1,628.0 1356.9,619.9 1356.2,627.6 1357.1,622.2 1358.9,630.7 1359.6,626.8 1359.3,635.2 1359.1,628.0 1360.3,636.3 1360.0,632.0 1360.3,640.6 1360.6,634.3 1361.3,642.3 1362.4,638.6 1362.9,646.7 1363.4,640.8 1362.5,649.1 1363.1,643.4 1363.7,652.2 1364.6,646.9 1365.8,654.3 1365.1,648.8 1365.9,658.6 1367.7,652.6 1366.4,660.1 1368.6,656.3 1368.1,663.9 1367.6,658.6 1368.2,666.9 1369.3,661.7 1368.9,669.6 1369.2,665.2 1369.5,673.5 1370.5,666.6 1369.6,676.6 1371.0,669.8 1371.5,679.1 1371.0,672.9 1371.1,681.2 1371.1,676.6 1372.6,684.2 1373.8,680.1 1373.3,687.1 1373.6,681.7 1374.2,689.7 1373.4,685.1 1375.4,692.6 1374.9,687.8 1375.6,696.2 1375.9,691.2 1376.5,698.5 1376.8,694.3 1375.8,701.6 1375.7,696.6 1377.1,704.7 1376.5,700.8 1376.5,707.8 1377.1,702.1 1379.0,711.9 1378.1,706.0 1379.1,715.1 1379.3,708.7 1378.3,717.5 1380.1,711.3 1378.6,720.6 1379.5,715.5 1381.3,723.5 1381.1,718.5 1381.6,727.0 1382.1,720.3 1382.2,729.7 1381.9,723.9 1382.8,732.6 1383.2,727.1 1383.7,735.1 1384.0,730.4 1384.3,738.5 1382.9,732.0 1383.1,740.3 1384.0,736.1 1384.3,744.7 1385.1,738.2 1384.7,747.5 1385.9,741.2 1386.6,750.5 1385.6,745.3 1386.5,753.5 1386.0,747.3 1387.5,756.4 1386.0,750.5 1386.4,758.0 1388.8,753.6 1388.7,761.6 1388.5,757.0 1389.0,765.4 1390.1,759.8 1389.3,767.2 1391.2,762.4 1391.6,771.2 1390.7,764.9 1391.0,774.2 1391.7,768.7 1394.1,776.3 1392.7,770.4 1394.0,780.3 1393.9,774.2 1395.6,782.5 1396.1,777.7 1396.1,784.7 1395.7,781.1 1395.2,789.3 1396.3,782.4 1396.2,791.0 1396.2,785.9 1398.4,794.3 1397.6,788.1 1399.2,797.6 1397.6,791.7 1398.9,801.1 1399.1,794.5 1400.1,802.9 1400.3,797.4 1401.6,806.1 1400.7,799.8 1400.3,809.7 1402.2,803.5 1402.1,812.4 1403.5,806.1 1403.5,814.0 1402.8,810.3 1404.6,818.6 1402.9,812.4 1404.3,819.9 1404.1,815.0 1405.0,823.4 1405.6,818.9 1405.4,826.6 1406.7,821.1 1406.6,830.1 1405.9,823.5 1407.0,833.1 1406.2,828.1 1407.1,836.4 1407.8,830.8 1406.5,838.8 1408.4,834.2 1408.3,841.2 1407.5,837.4 1407.7,844.6 1409.5,838.7 1407.8,847.5 1409.8,843.2 1408.5,850.8 1408.2,846.1 1409.1,853.8 1410.7,849.2 1409.1,857.9 1409.9,851.1 1410.5,860.6 1410.0,855.5 1411.2,863.1 1410.9,857.5 1411.6,865.7 1410.9,860.0 1411.5,868.8 1411.9,864.4 1412.5,871.3 1412.8,866.8 1411.8,876.2 1411.8,870.5 1411.6,878.4 1413.4,872.7 1412.8,882.0 1412.3,876.5 1413.7,885.4 1413.9,878.7 1414.5,887.3 1415.1,881.7 1413.8,890.3 1415.2,885.5 1414.0,894.3 1415.0,888.2 1415.6,897.4 1414.6,891.6 1414.7,899.5 1416.0,893.6 1416.6,902.8 1416.2,897.2 1416.2,906.4 1417.7,899.8 1416.4,909.1 1418.1,903.5 1418.7,912.6 1418.6,905.9 1418.6,915.6 1417.6,909.1 1419.2,918.1 1418.5,913.4 1419.5,921.6 1418.9,916.2 1419.0,923.2 1420.2,917.7 1420.8,926.7 1420.7,922.6 1421.2,929.7 1419.5,924.5 1420.0,932.7 1420.0,927.9 1421.4,936.8 1420.4,930.2 1420.7,938.6 1422.2,934.2 1421.7,942.4 1421.6,936.3 1421.8,945.9 1423.4,939.9 1421.8,948.9 1422.0,943.0 1423.2,950.5 1424.0,945.6 1424.1,954.2 1424.2,948.9 1423.8,958.2 1425.9,951.5 1426.0,960.1 1426.3,956.0 1425.4,962.8 1425.6,957.9 1426.4,966.5 1425.8,961.9 1426.2,969.2 1426.0,963.8 1427.0,972.5 1426.5,966.9 1426.7,975.2 1427.8,970.0 1429.2,979.2 1429.5,972.5 1429.3,982.1 1428.1,976.9 1428.4,985.4 1430.4,979.0 1429.7,987.3 1429.8,982.0 1432.2,990.2 1430.3,985.9 1431.4,994.3 1432.9,988.3 1431.5,995.7 1432.3,990.6 1433.6,1000.5 1435.3,993.6 1434.8,1003.1 1434.6,997.9 1436.2,1005.4 1435.9,1000.6 1436.1,1009.2 1438.3,1002.2 1439.6,1011.2 1439.6,1006.3 1440.4,1015.0 1439.3,1010.0 1440.1,1017.5 1441.1,1013.0 1442.7,1021.0 1442.4,1016.1 1444.0,1023.6 1442.7,1018.6 1444.6,1027.4 1444.8,1021.0 1444.7,1029.2 1447.0,1024.6 1445.7,1033.0 1446.4,1028.2 1447.8,1036.2 1448.9,1030.4 1449.1,1038.4 1449.9,1037.4" fill="none" stroke="#f0f" stroke-width="10.5" stroke-linejoin="round" stroke-linecap="round"/>
<text x="126.66 157.02 187.39" y="0" font-size="57.90" font-weight="bold" transform="translate(0,134.53) scale(0.9516,1)">100</text>
<text x="156.04 187.46" y="0" font-size="57.90" font-weight="bold" transform="translate(0,306.43) scale(0.9516,1)">95</text>
<text x="156.04 187.39" y="0" font-size="57.90" font-weight="bold" transform="translate(0,477.63) scale(0.9516,1)">90</text>
<text x="156.21 187.46" y="0" font-size="57.90" font-weight="bold" transform="translate(0,649.73) scale(0.9516,1)">85</text>
<text x="156.21 187.39" y="0" font-size="57.90" font-weight="bold" transform="translate(0,820.93) scale(0.9516,1)">80</text>
<text x="156.09 187.57" y="0" font-size="57.90" font-weight="bold" transform="translate(0,993.73) scale(0.9516,1)">75</text>
<text x="156.40 187.18" y="0" font-size="57.90" font-weight="bold" transform="translate(0,1165.43) scale(0.9516,1)">70</text>
<text x="343.18" y="0" font-size="57.90" font-weight="bold" transform="translate(0,1218.43) scale(0.9516,1)">0</text>
<text x="548.12 579.40 610.67" y="0" font-size="57.90" font-weight="bold" transform="translate(0,1218.43) scale(0.9516,1)">200</text>
<text x="785.48 816.62 847.75" y="0" font-size="57.90" font-weight="bold" transform="translate(0,1218.43) scale(0.9516,1)">400</text>
<text x="1021.84 1052.86 1083.88" y="0" font-size="57.90" font-weight="bold" transform="translate(0,1218.43) scale(0.9516,1)">600</text>
<text x="1259.30 1289.71 1320.11" y="0" font-size="57.90" font-weight="bold" transform="translate(0,1218.43) scale(0.9516,1)">800</text>
<text x="1479.54 1510.19 1540.83 1571.48" y="0" font-size="57.90" font-weight="bold" transform="translate(0,1218.43) scale(0.9516,1)">1000</text>
<text x="1695.06 1727.82 1744.47 1777.24" y="0" font-size="57.90" font-weight="bold" transform="translate(0,64.53) scale(0.9516,1)">0.00</text>
<text x="1695.51 1715.34 1748.08 1764.71 1797.46" y="0" font-size="57.90" font-weight="bold" transform="translate(0,247.53) scale(0.9516,1)">-0.02</text>
<text x="1695.51 1714.86 1747.13 1763.29 1795.56" y="0" font-size="57.90" font-weight="bold" transform="translate(0,430.50) scale(0.9516,1)">-0.04</text>
<text x="1695.51 1715.39 1748.18 1764.86 1797.65" y="0" font-size="57.90" font-weight="bold" transform="translate(0,613.23) scale(0.9516,1)">-0.06</text>
<text x="1695.51 1715.23 1747.87 1764.39 1797.03" y="0" font-size="57.90" font-weight="bold" transform="translate(0,796.46) scale(0.9516,1)">-0.08</text>
<text x="1695.51 1715.38 1748.16 1764.84 1797.62" y="0" font-size="57.90" font-weight="bold" transform="translate(0,979.45) scale(0.9516,1)">-0.10</text>
<text x="1695.51 1715.34 1748.08 1764.71 1797.46" y="0" font-size="57.90" font-weight="bold" transform="translate(0,1162.83) scale(0.9516,1)">-0.12</text>
<text x="543.01 571.77 599.80 639.40 667.86 694.66 713.29 741.14 757.59 784.66 802.84 828.04 843.35 859.55 890.22 917.81 944.27 962.37 989.53 1017.80" y="0" font-size="45.30" font-weight="bold" stroke="#000" stroke-width="2.00" stroke-linejoin="round" transform="translate(0,1323) scale(1.1490,1)">Temperature <tspan stroke-width="0.6">(</tspan>Degree<tspan stroke-width="0.6">)</tspan></text>
<text x="4.13 49.86 81.56 111.94 137.97 159.40" y="0" font-size="46.80" font-weight="bold" stroke="#000" stroke-width="2.00" stroke-linejoin="round" transform="translate(68.40,750) rotate(-90) scale(1.0600,1)">Mass <tspan stroke-width="0.6">%</tspan></text>
<text x="3.13 39.75 73.26 109.77 127.93 143.57 162.68 197.35 229.17 260.63 281.17 311.62" y="0" font-size="46.95" font-weight="bold" stroke="#000" stroke-width="2.00" stroke-linejoin="round" transform="translate(1773.10,430) rotate(90) scale(1.1000,1)">DTG <tspan stroke-width="0.6">(</tspan> Degree<tspan x="343.09 352.51" dy="-28.80" font-size="28.0" stroke-width="1.2">-1</tspan><tspan x="359.27 372.32" dy="28.80" stroke-width="0.6"> )</tspan></text>
<rect x="1233" y="97.5" width="301" height="171" fill="#fff" stroke="#000" stroke-width="3"/>
<path d="M1264 148.6H1388" stroke="#000" stroke-width="4" stroke-linecap="round"/>
<ellipse cx="1325.6" cy="148.6" rx="5.8" ry="7.5" fill="#000"/>
<path d="M1264 214.3H1388" stroke="#00f" stroke-width="4" stroke-linecap="round"/>
<ellipse cx="1325.6" cy="214.3" rx="5.8" ry="7.5" fill="#f0f"/>
<text x="1431.71 1465.57 1508.67" y="0" font-size="55.67" transform="translate(0,166.3) scale(0.9800,1)">TGA</text>
<text x="1431.15 1470.79 1505.06" y="0" font-size="55.67" transform="translate(0,232.1) scale(0.9800,1)">DTG</text>
</svg></body></html>
